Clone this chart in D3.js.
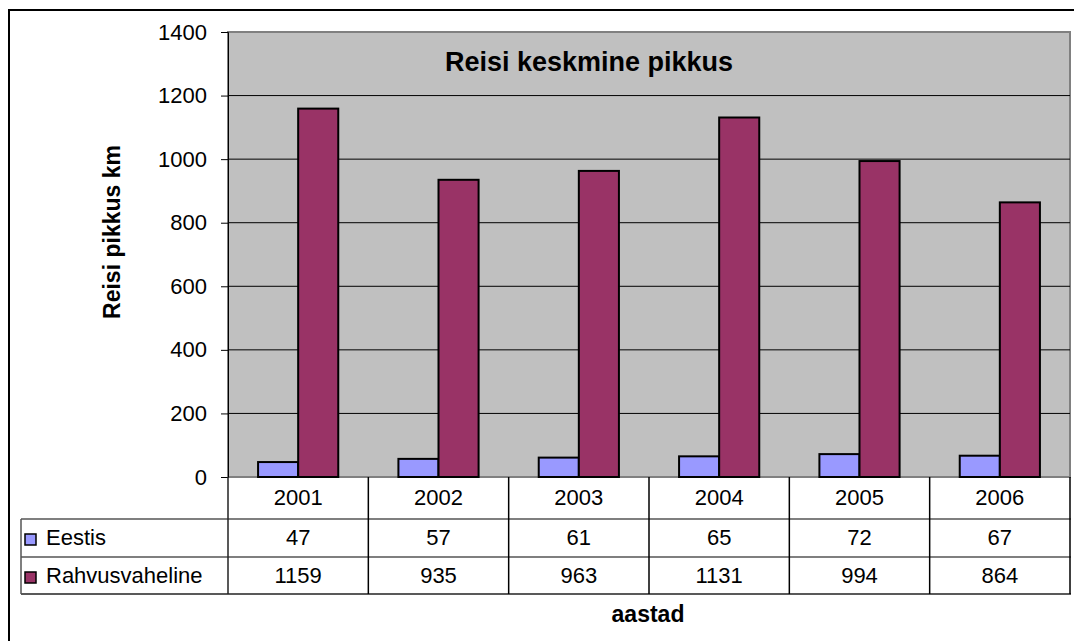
<!DOCTYPE html>
<html>
<head>
<meta charset="utf-8">
<script src="https://cdn.jsdelivr.net/npm/d3@7"></script>
<style>
  body { margin: 0; background: #fff; }
  svg { display: block; font-family: "Liberation Sans", Arial, sans-serif; }
</style>
</head>
<body>
<svg id="canvas"></svg>
<script>
const years = ['2001', '2002', '2003', '2004', '2005', '2006']
const seriesNames = ['Eestis', 'Rahvusvaheline']
const eestis = [47, 57, 61, 65, 72, 67]
const rahvusvaheline = [1159, 935, 963, 1131, 994, 864]
const yTicks = [0, 200, 400, 600, 800, 1000, 1200, 1400]
const colors = ['#9999FF', '#993366']

const width = 1074
const height = 641
const plot = { left: 228, top: 32, right: 1070, bottom: 477 }
const rows = [477, 519, 557, 594]
const tableLeft = 21
const tableRight = 1071

const svg = d3.select('#canvas').attr('width', width).attr('height', height)

// outer chart frame (runs off the right and bottom)
svg.append('rect')
    .attr('x', 9).attr('y', 10)
    .attr('width', 1200).attr('height', 800)
    .attr('fill', '#fff').attr('stroke', '#000').attr('stroke-width', 2)

const x = d3.scaleBand()
    .domain(years)
    .range([plot.left, plot.right])
    .paddingInner(0.4286)
    .paddingOuter(0.2143)

const xCol = d3.scaleBand().domain(years).range([plot.left, plot.right])

const xSeries = d3.scaleBand().domain(seriesNames).range([0, x.bandwidth()])

const y = d3.scaleLinear().domain([0, 1400]).range([plot.bottom, plot.top])

// plot area
svg.append('rect')
    .attr('x', plot.left).attr('y', plot.top)
    .attr('width', plot.right - plot.left).attr('height', plot.bottom - plot.top)
    .attr('fill', '#C0C0C0').attr('stroke', '#808080').attr('stroke-width', 2)

// gridlines
svg.append('g').selectAll('line')
    .data(yTicks.slice(1, -1))
    .enter()
    .append('line')
    .attr('x1', plot.left).attr('x2', plot.right)
    .attr('y1', d => y(d)).attr('y2', d => y(d))
    .attr('stroke', '#000').attr('stroke-width', 1)

// title
svg.append('text')
    .attr('x', 589).attr('y', 71)
    .attr('text-anchor', 'middle')
    .attr('font-size', 27).attr('font-weight', 'bold')
    .text('Reisi keskmine pikkus')

// bars
const data = years.map((yr, i) => ({ year: yr, values: [eestis[i], rahvusvaheline[i]] }))
const groups = svg.append('g').selectAll('g')
    .data(data)
    .enter()
    .append('g')
    .attr('transform', d => `translate(${x(d.year)},0)`)

groups.selectAll('rect')
    .data(d => d.values.map((v, k) => ({ name: seriesNames[k], value: v, k })))
    .enter()
    .append('rect')
    .attr('x', d => xSeries(d.name))
    .attr('y', d => y(d.value))
    .attr('width', xSeries.bandwidth())
    .attr('height', d => y(0) - y(d.value))
    .attr('fill', d => colors[d.k])
    .attr('stroke', '#000').attr('stroke-width', 2)

// y axis
const yAxis = svg.append('g')
    .attr('transform', `translate(${plot.left},0)`)
    .call(d3.axisLeft(y).tickValues(yTicks).tickSize(7).tickPadding(14).tickFormat(d3.format('d')))
yAxis.select('.domain').attr('stroke', '#000').attr('stroke-width', 1)
yAxis.selectAll('text').attr('font-size', 22).attr('fill', '#000')
    .attr('font-family', '"Liberation Sans", Arial, sans-serif')
yAxis.selectAll('line').attr('stroke', '#000')

// y axis title
svg.append('text')
    .attr('transform', 'translate(120,232) rotate(-90)')
    .attr('text-anchor', 'middle')
    .attr('font-size', 23).attr('font-weight', 'bold')
    .text('Reisi pikkus km')

// data table
const table = svg.append('g')
const hLine = (x1, x2, yy, c) => table.append('line')
    .attr('x1', x1).attr('x2', x2).attr('y1', yy).attr('y2', yy)
    .attr('stroke', c).attr('stroke-width', 1.5)
const vLine = (xx, y1, y2, c) => table.append('line')
    .attr('x1', xx).attr('x2', xx).attr('y1', y1).attr('y2', y2)
    .attr('stroke', c).attr('stroke-width', 1.5)

hLine(tableLeft, tableRight, rows[1], '#555')
hLine(tableLeft, tableRight, rows[2], '#555')
hLine(tableLeft, tableRight, rows[3], '#222')
vLine(tableLeft, rows[1], rows[3], '#555')
vLine(plot.left, rows[0], rows[3], '#222')
years.forEach(yr => vLine(xCol(yr) + xCol.bandwidth(), rows[0], rows[3], '#000'))

table.selectAll('.yr')
    .data(years)
    .enter()
    .append('text')
    .attr('x', d => xCol(d) + xCol.bandwidth() / 2)
    .attr('y', 505)
    .attr('text-anchor', 'middle')
    .attr('font-size', 22)
    .text(d => d)

const rowBase = [545, 583]
;[eestis, rahvusvaheline].forEach((vals, k) => {
    table.selectAll('.v' + k)
        .data(vals)
        .enter()
        .append('text')
        .attr('x', (d, i) => xCol(years[i]) + xCol.bandwidth() / 2)
        .attr('y', rowBase[k])
        .attr('text-anchor', 'middle')
        .attr('font-size', 22)
        .text(d => d)
    table.append('rect')
        .attr('x', 25).attr('y', rowBase[k] - 11)
        .attr('width', 11).attr('height', 11)
        .attr('fill', colors[k]).attr('stroke', '#000').attr('stroke-width', 1.5)
    table.append('text')
        .attr('x', 46).attr('y', rowBase[k])
        .attr('font-size', 22)
        .text(seriesNames[k])
})

// x axis title
svg.append('text')
    .attr('x', 648).attr('y', 622)
    .attr('text-anchor', 'middle')
    .attr('font-size', 23).attr('font-weight', 'bold')
    .text('aastad')
</script>
</body>
</html>
